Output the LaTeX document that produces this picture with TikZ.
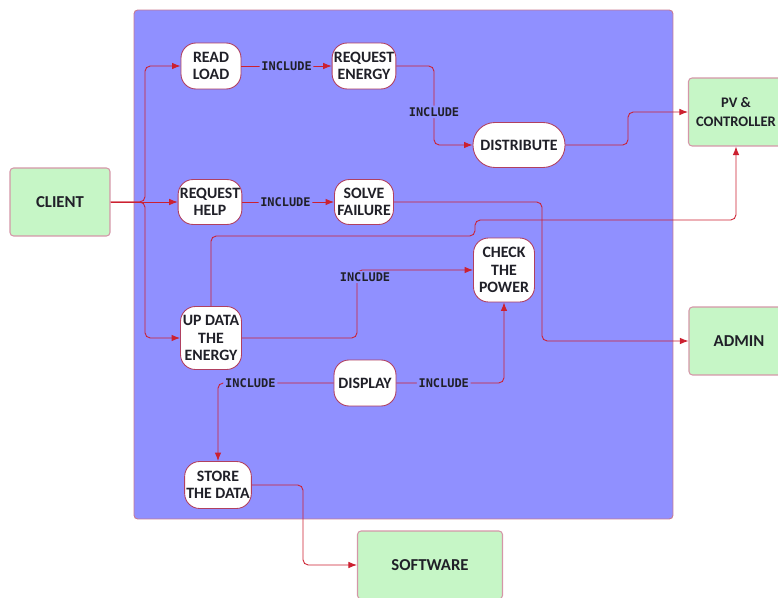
\documentclass[tikz,border=0pt]{standalone}
\usepackage{fontspec}
\setmainfont{Carlito}
\newfontfamily\inclfont{DejaVu Sans Mono}
\usetikzlibrary{arrows.meta}
\definecolor{cSys}{HTML}{9090FF}
\definecolor{cActor}{HTML}{C6F6C6}
\definecolor{cLine}{HTML}{CC2030}
\definecolor{cEdge}{HTML}{B04060}
\definecolor{cText}{HTML}{202028}
\tikzset{
  >={Latex[length=1.7mm,width=1.3mm]},
  sysbox/.style={draw=cEdge!70, fill=cSys, rounded corners=2pt, line width=0.5pt},
  usecase/.style={draw=cEdge, fill=white, rounded corners=0.3cm, align=center,
                  inner sep=1pt, text=cText, line width=0.5pt,
                  font=\fontsize{9}{10}\selectfont\bfseries},
  actor/.style={draw=cEdge!55, fill=cActor, rounded corners=2pt, align=center,
                minimum width=2cm, minimum height=1.36cm, text=cText, line width=0.6pt,
                font=\fontsize{9.5}{11}\selectfont\bfseries},
  arr/.style={->, draw=cLine, line width=0.5pt, rounded corners=3pt},
  incl/.style={fill=cSys, inner sep=1pt, text=cText,
               font=\inclfont\fontsize{6.8}{8}\selectfont\bfseries},
}

\begin{document}
\begin{tikzpicture}[x=0.02cm, y=-0.02cm]
    \clip (0,0) rectangle (778,598);
    \node[sysbox, minimum width=10.78cm, minimum height=10.18cm] (sys) at (403.5,264.5) {};
    % actors
    \node[actor] (client) at (60,202) {CLIENT};
    \node[actor, minimum width=1.9cm, font=\fontsize{8.3}{10.5}\selectfont\bfseries] (pv) at (736,112) {PV \&\\CONTROLLER};
    \node[actor] (admin) at (739,341) {ADMIN};
    \node[actor, minimum width=2.9cm] (software) at (430,565) {SOFTWARE};
    % use cases
    \node[usecase, minimum width=1.2cm, minimum height=0.92cm] (readload) at (211,66) {READ\\LOAD};
    \node[usecase, minimum width=1.18cm, minimum height=0.92cm] (reqenergy) at (364,66) {REQUEST\\ENERGY};
    \node[usecase, minimum width=1.84cm, minimum height=0.9cm, rounded corners=0.44cm] (distribute) at (519,145) {DISTRIBUTE};
    \node[usecase, minimum width=1.18cm, minimum height=0.9cm] (reqhelp) at (210,202) {REQUEST\\HELP};
    \node[usecase, minimum width=1.18cm, minimum height=0.9cm] (solve) at (364,202) {SOLVE\\FAILURE};
    \node[usecase, minimum width=1.22cm, minimum height=1.28cm] (check) at (504,270) {CHECK\\THE\\POWER};
    \node[usecase, minimum width=1.22cm, minimum height=1.26cm] (updata) at (211,338) {UP DATA\\THE\\ENERGY};
    \node[usecase, minimum width=1.24cm, minimum height=0.92cm] (display) at (365,383) {DISPLAY};
    \node[usecase, minimum width=1.2cm, minimum height=0.94cm] (store) at (218,485) {STORE\\THE DATA};
    % connectors
    \draw[arr] (client.east) -- (145,202) |- (readload.west);
    \draw[arr] (client.east) -- (reqhelp.west);
    \draw[arr] (client.east) -- (145,202) |- (updata.west);
    \draw[arr] (readload) -- node[incl] (inc1) {INCLUDE} (reqenergy);
    \draw[arr] (reqenergy.east) -- (434,66) -- node[incl, pos=0.58] (inc2) {INCLUDE} (434,145) -- (distribute.west);
    \draw[arr] (distribute.east) -- (628,145) |- (pv.west);
    \draw[arr] (reqhelp) -- node[incl, pos=0.47] (inc3) {INCLUDE} (solve);
    \draw[arr] (solve.east) -- (542,202) |- (admin.west);
    \draw[arr] (updata.north) -- (211,236) -- (475,236) -- (475,220) -| (pv.south);
    \draw[arr] (updata.east) -- (357,338) -- (357,270) -- (check.west);
    \node[incl] (inc4) at (365,277) {INCLUDE};
    \draw[arr] (display.east) -| node[incl, pos=0.22] (inc5) {INCLUDE} (check.south);
    \draw[arr] (display.west) -| node[incl, pos=0.36] (inc6) {INCLUDE} (store.north);
    \draw[arr] (store.east) -- (303,485) |- (software.west);
  \end{tikzpicture}
\end{document}
